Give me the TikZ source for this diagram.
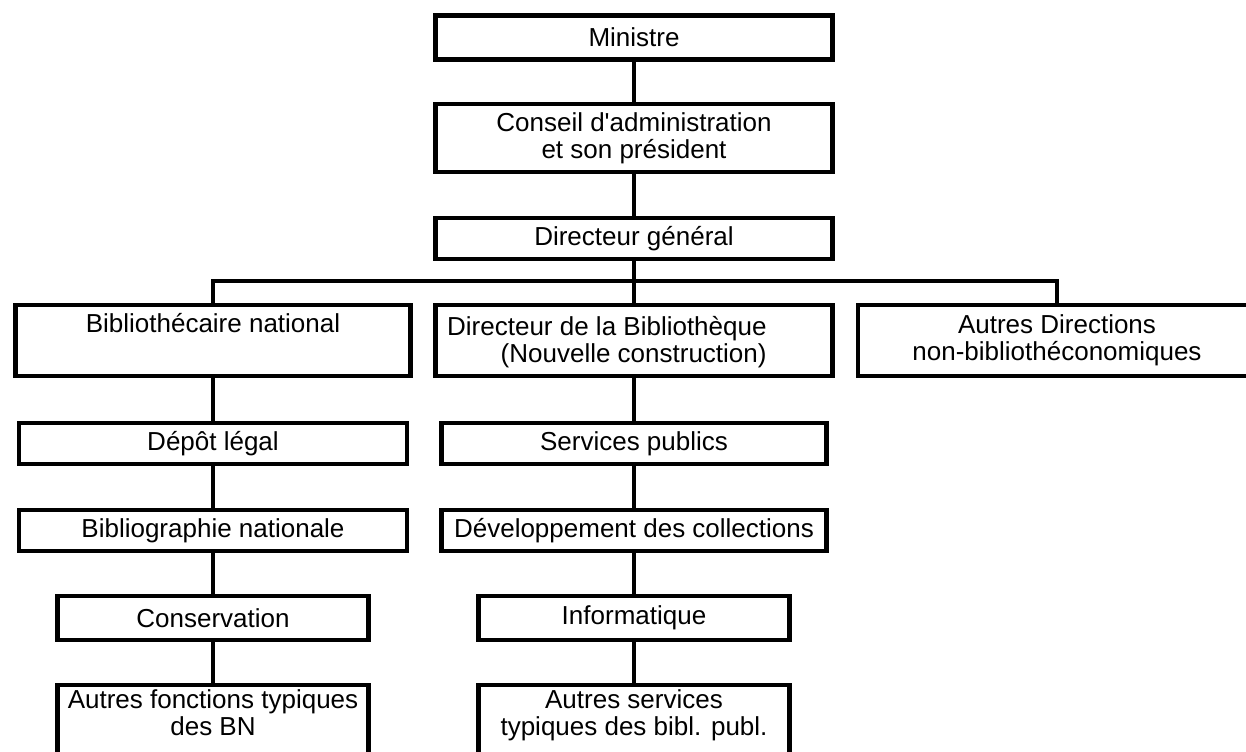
\documentclass[tikz,border=0pt]{standalone}
\usepackage{fontspec}
\setmainfont{Liberation Sans}
\usetikzlibrary{positioning}
\tikzset{
  orgbox/.style 2 args={draw, line width=2.2pt, inner sep=0pt, align=center,
    minimum width=#1*0.5pt, minimum height=#2*0.5pt, font=\fontsize{13}{13.5}\selectfont},
  lbl/.style={inner sep=0pt, align=right, font=\fontsize{13}{13.5}\selectfont},
  link/.style={line width=2.2pt},
}
\begin{document}
\begin{tikzpicture}[x=0.5pt,y=-0.5pt]
\useasboundingbox (0,0) rectangle (1246,751);
% top of the chart
\node[orgbox={397}{44}] (min) at (634,37.5) {Ministre};
\node[orgbox={397}{68}] (cons) at (634,138) {Conseil d\textquotesingle administration\\et son président};
\node[orgbox={397}{41}] (dg) at (634,238.5) {Directeur général};
% second level
\node[orgbox={395}{71}] (bn) at (213,340.5) {Bibliothécaire national\\\strut};
\node[orgbox={397}{71}] (dbib) at (634,340.5) {};
\node[lbl, anchor=east] (dbibtxt) at (767,342) {Directeur de la Bibliothèque\\(Nouvelle construction)};
\node[orgbox={398}{71}] (ad) at (1057,340.5) {Autres Directions\\non-bibliothéconomiques};
% national library column
\node[orgbox={388}{41}] (dl) at (213,443.5) {Dépôt légal};
\node[orgbox={388}{41}] (bibnat) at (213,530.5) {Bibliographie nationale};
\node[orgbox={311}{44}] (cnsv) at (213,618) {Conservation};
\node[orgbox={311}{90}] (afn) at (213,730) {Autres fonctions typiques\\des BN\\\strut};
% new building column
\node[orgbox={385}{41}] (sp) at (634,443.5) {Services publics};
\node[orgbox={385}{41}] (dev) at (634,530.5) {Développement des collections};
\node[orgbox={311}{44}] (info) at (634,618) {Informatique};
\node[orgbox={311}{90}] (asv) at (634,730) {Autres services\\typiques des bibl. publ.\\\strut};
% connectors
\coordinate (bus) at (634,281);
\foreach \a/\b in {min/cons, cons/dg, dg/dbib, dbib/sp, sp/dev, dev/info, info/asv,
                   bn/dl, dl/bibnat, bibnat/cnsv, cnsv/afn}
  \draw[link] (\a) -- (\b);
\draw[link] (bn.north) |- (bus) -| (ad.north);
\end{tikzpicture}
\end{document}
